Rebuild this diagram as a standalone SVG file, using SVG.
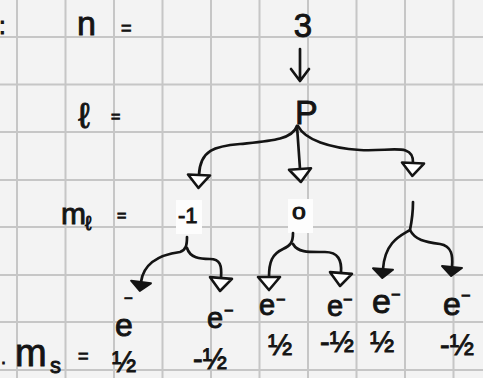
<svg xmlns="http://www.w3.org/2000/svg" width="483" height="378" viewBox="0 0 483 378">
<style>
.hw{font-family:"Liberation Sans","DejaVu Sans",sans-serif;fill:#141414;stroke:#141414;stroke-width:0.9;}
.grid line{stroke:#c6c6c6;stroke-width:2;}
.wire{fill:none;stroke:#141414;stroke-width:2.7;stroke-linecap:round;stroke-linejoin:round;}
</style>
<defs>
<marker id="hollow" viewBox="0 0 18 26" refX="3" refY="13" markerWidth="18" markerHeight="26" orient="auto" markerUnits="userSpaceOnUse">
<path d="M3,2 L16,13 L3,24 z" fill="#fff" stroke="#141414" stroke-width="2.6" stroke-linejoin="round"/>
</marker>
<marker id="filled" viewBox="0 0 14 24" refX="3" refY="12" markerWidth="14" markerHeight="24" orient="auto" markerUnits="userSpaceOnUse">
<path d="M3,2 L12,12 L3,22 z" fill="#141414" stroke="#141414" stroke-width="2" stroke-linejoin="round"/>
</marker>
</defs>
<rect width="483" height="378" fill="#f3f3f3"/>
<g class="grid">
<line x1="17" y1="0" x2="17" y2="378"/><line x1="65.5" y1="0" x2="65.5" y2="378"/><line x1="114" y1="0" x2="114" y2="378"/><line x1="162.5" y1="0" x2="162.5" y2="378"/><line x1="211" y1="0" x2="211" y2="378"/><line x1="259.5" y1="0" x2="259.5" y2="378"/><line x1="308" y1="0" x2="308" y2="378"/><line x1="356.5" y1="0" x2="356.5" y2="378"/><line x1="405" y1="0" x2="405" y2="378"/><line x1="453.5" y1="0" x2="453.5" y2="378"/>
<line x1="0" y1="37" x2="483" y2="37"/><line x1="0" y1="84.5" x2="483" y2="84.5"/><line x1="0" y1="132" x2="483" y2="132"/><line x1="0" y1="180" x2="483" y2="180"/><line x1="0" y1="227" x2="483" y2="227"/><line x1="0" y1="275" x2="483" y2="275"/><line x1="0" y1="322" x2="483" y2="322"/><line x1="0" y1="370" x2="483" y2="370"/>
</g>
<rect x="176" y="200" width="26" height="34" fill="#fdfdfd"/>
<rect x="288" y="199" width="25" height="34" fill="#fdfdfd"/>

<g id="connectors">
<path class="wire" d="M300,49 L300,80 M291,69 L300,81 L309,69"/>
<path class="wire" d="M297,126 C292,140 270,141 240,144 C215,146 200,150 199,175" marker-end="url(#hollow)"/>
<path class="wire" d="M297,126 L300,169" marker-end="url(#hollow)"/>
<path class="wire" d="M298,126 C305,140 330,148 360,150 C390,152 414,142 413,163" marker-end="url(#hollow)"/>
<path class="wire" d="M187,237 C187,245 186,250 180,252 C165,254 144,260 141,282" marker-end="url(#filled)"/>
<path class="wire" d="M187,248 C190,258 200,259 210,259 C220,259 222,265 221,278" marker-end="url(#hollow)"/>
<path class="wire" d="M293,233 C293,243 290,246 283,249 C272,254 269,262 269,277" marker-end="url(#hollow)"/>
<path class="wire" d="M293,244 C298,253 310,252 325,252 C338,252 342,260 341,273" marker-end="url(#hollow)"/>
<path class="wire" d="M413,202 C413,215 411,225 410,230 C400,236 385,242 383,269" marker-end="url(#filled)"/>
<path class="wire" d="M410,230 C415,240 425,242 440,244 C452,246 453,256 452,267" marker-end="url(#filled)"/>
</g>

<g id="stray-marks">
<text class="hw" x="-1" y="34" font-size="24">:</text>
<text class="hw" x="1" y="364" font-size="18">.</text>
</g>
<g id="label-n"><text class="hw"><tspan x="77" y="35" font-size="34">n</tspan><tspan x="121" y="34" font-size="18">=</tspan></text></g>
<g id="node-n3"><text class="hw" x="303" y="37" font-size="33" text-anchor="middle">3</text></g>
<g id="label-l"><text class="hw"><tspan x="78" y="128" font-size="36">ℓ</tspan><tspan x="111" y="122" font-size="16">=</tspan></text></g>
<g id="node-lP"><text class="hw" x="295" y="124" font-size="34">P</text></g>
<g id="label-ml"><text class="hw"><tspan x="61" y="224" font-size="30">m</tspan><tspan x="85" y="230" font-size="20">ℓ</tspan><tspan x="117" y="221" font-size="16">=</tspan></text></g>
<g id="node-ml-neg1"><text class="hw" x="178" y="223" font-size="22">-1</text></g>
<g id="node-ml-0"><text class="hw" transform="translate(299,219) scale(1.5,1)" x="0" y="0" font-size="16" text-anchor="middle">0</text></g>
<g id="node-e1"><text class="hw"><tspan x="115" y="336" font-size="32">e</tspan><tspan x="124" y="303" font-size="15">−</tspan></text></g>
<g id="node-e2"><text class="hw"><tspan x="207" y="328" font-size="29">e</tspan><tspan x="224" y="316" font-size="16">−</tspan></text></g>
<g id="node-e3"><text class="hw"><tspan x="259" y="315" font-size="29">e</tspan><tspan x="276" y="305" font-size="16">−</tspan></text></g>
<g id="node-e4"><text class="hw"><tspan x="327" y="316" font-size="29">e</tspan><tspan x="343" y="305" font-size="16">−</tspan></text></g>
<g id="node-e5"><text class="hw"><tspan x="372" y="313" font-size="34">e</tspan><tspan x="391" y="300" font-size="16">−</tspan></text></g>
<g id="node-e6"><text class="hw"><tspan x="443" y="315" font-size="32">e</tspan><tspan x="461" y="301" font-size="16">−</tspan></text></g>
<g id="label-ms"><text class="hw"><tspan x="15" y="366" font-size="38">m</tspan><tspan x="50" y="373" font-size="22">s</tspan><tspan x="78" y="362" font-size="18">=</tspan></text></g>
<g id="ms-1"><text class="hw" x="112" y="372" font-size="29">½</text></g>
<g id="ms-2"><text class="hw" x="193" y="369" font-size="29">-½</text></g>
<g id="ms-3"><text class="hw" x="268" y="355" font-size="29">½</text></g>
<g id="ms-4"><text class="hw" x="320" y="352" font-size="29">-½</text></g>
<g id="ms-5"><text class="hw" x="370" y="352" font-size="29">½</text></g>
<g id="ms-6"><text class="hw" x="440" y="355" font-size="29">-½</text></g>
</svg>
